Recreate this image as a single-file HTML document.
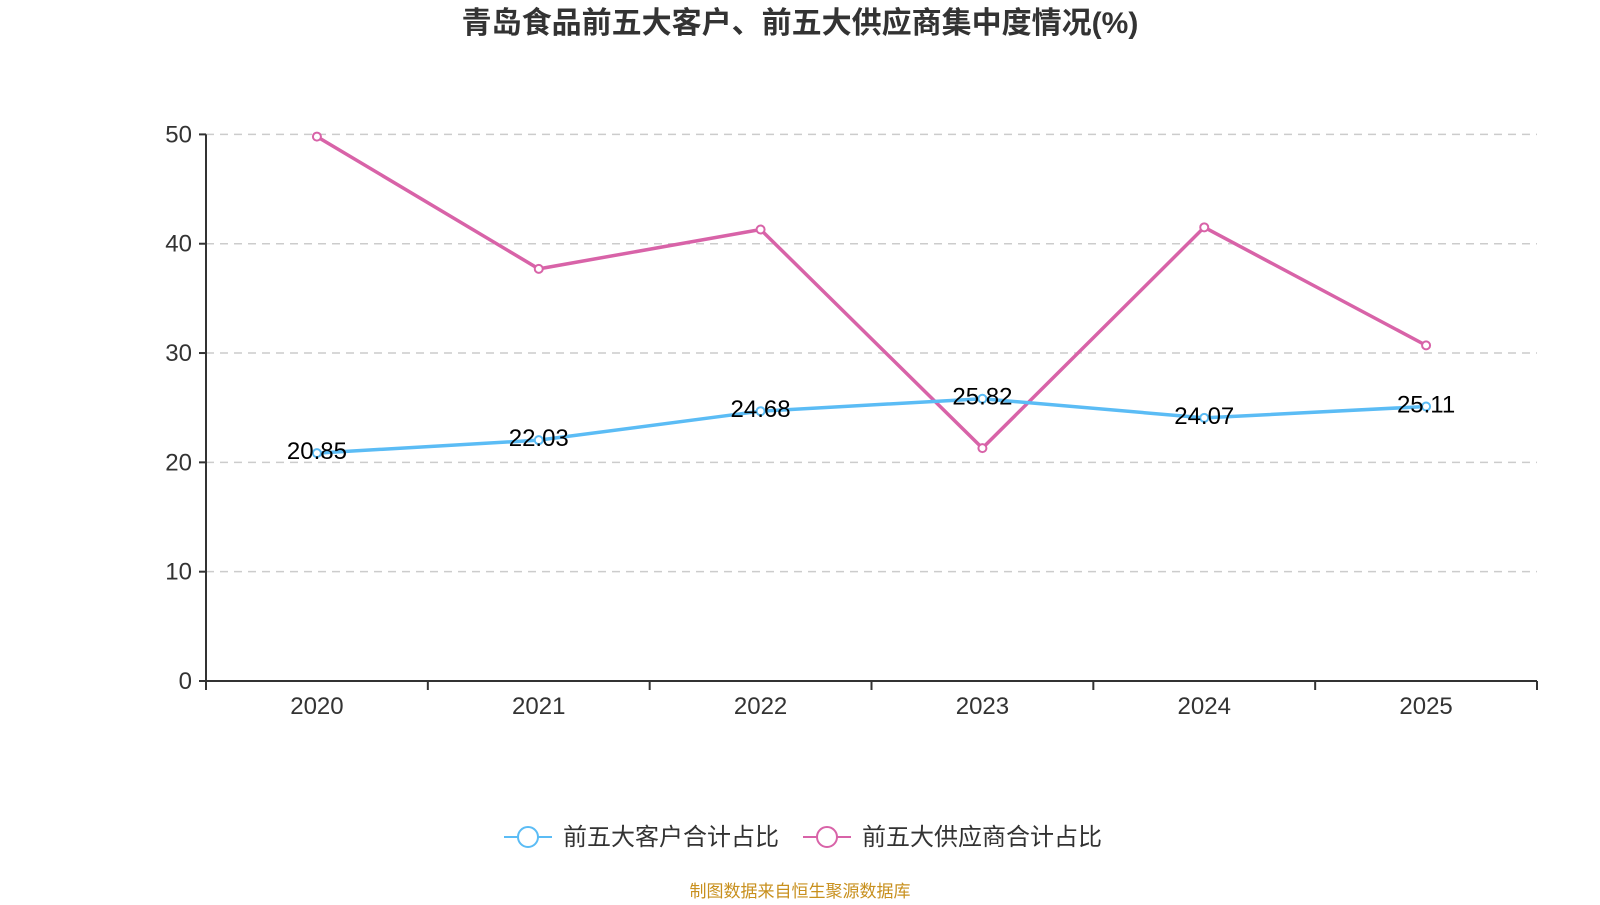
<!DOCTYPE html>
<html><head><meta charset="utf-8"><style>
body{margin:0;background:#fff;width:1600px;height:900px;overflow:hidden;font-family:"Liberation Sans","Noto Sans CJK SC",sans-serif}
</style></head><body>
<svg id="c" width="1600" height="900" xmlns="http://www.w3.org/2000/svg">
<text x="800" y="33" text-anchor="middle" font-size="30" font-weight="bold" fill="#333">青岛食品前五大客户、前五大供应商集中度情况(%)</text>
<g id="grid"></g><g id="axes"></g><g id="series"></g>
<g>
<g><line x1="504" y1="837" x2="552" y2="837" stroke="#5bbcf5" stroke-width="2"/><circle cx="528" cy="837" r="10" fill="#fff" stroke="#5bbcf5" stroke-width="2"/><text x="563" y="845" font-size="24" fill="#333">前五大客户合计占比</text></g>
<g><line x1="803" y1="837" x2="851" y2="837" stroke="#d863a8" stroke-width="2"/><circle cx="827" cy="837" r="10" fill="#fff" stroke="#d863a8" stroke-width="2"/><text x="862" y="845" font-size="24" fill="#333">前五大供应商合计占比</text></g>
</g>
<text x="800" y="897" text-anchor="middle" font-size="17" fill="#c8901e">制图数据来自恒生聚源数据库</text>
</svg>
<script>
const categories=["2020","2021","2022","2023","2024","2025"];
const customers=[20.85,22.03,24.68,25.82,24.07,25.11];
const suppliers=[49.8,37.7,41.3,21.3,41.5,30.7];
const yTicks=[0,10,20,30,40,50];
const X0=206,X1=1537,Y0=681,Y50=134.4;
const bw=(X1-X0)/categories.length;
const xs=i=>X0+bw*(i+0.5);
const ys=v=>Y0-(Y0-Y50)*v/50;
const NS="http://www.w3.org/2000/svg";
function mk(p,t,a){const e=document.createElementNS(NS,t);for(const k in a)e.setAttribute(k,a[k]);p.appendChild(e);return e;}
const grid=document.getElementById('grid'),axes=document.getElementById('axes'),ser=document.getElementById('series');
yTicks.forEach(v=>{const y=ys(v);
 if(v>0){const g=mk(grid,'line',{x1:X0,x2:X1,y1:y,y2:y,stroke:'#ccc','stroke-width':1.5,'stroke-dasharray':'8,6'});
 
 }
 mk(axes,'line',{x1:X0-7,x2:X0,y1:y,y2:y,stroke:'#333','stroke-width':2});
 const l=mk(axes,'text',{x:X0-14,y:y+8,'text-anchor':'end','font-size':24,fill:'#333'});l.textContent=v;
 
 
});
const ya=mk(axes,'line',{x1:X0,x2:X0,y1:Y50,y2:Y0,stroke:'#333','stroke-width':2});


const xa=mk(axes,'line',{x1:X0,x2:X1,y1:Y0,y2:Y0,stroke:'#333','stroke-width':2});


for(let i=0;i<=categories.length;i++){mk(axes,'line',{x1:X0+bw*i,x2:X0+bw*i,y1:Y0,y2:Y0+9,stroke:'#333','stroke-width':2});}
categories.forEach((c,i)=>{const t=mk(axes,'text',{x:xs(i),y:Y0+33,'text-anchor':'middle','font-size':24,fill:'#333'});t.textContent=c;
 
 });
function line(data,color,name,labels){
 const p=mk(ser,'polyline',{points:data.map((v,i)=>xs(i)+','+ys(v)).join(' '),fill:'none',stroke:color,'stroke-width':3.5});
 
 
 data.forEach((v,i)=>{const c=mk(ser,'circle',{cx:xs(i),cy:ys(v),r:4,fill:'#fff',stroke:color,'stroke-width':2});
  
  
  if(labels){const t=mk(ser,'text',{x:xs(i),y:ys(v)+6,'text-anchor':'middle','font-size':24,fill:'#000'});t.textContent=v.toFixed(2);
   
   }
 });
}
line(suppliers,'#d863a8','suppliers',false);
line(customers,'#5bbcf5','customers',true);
</script>
</body></html>
